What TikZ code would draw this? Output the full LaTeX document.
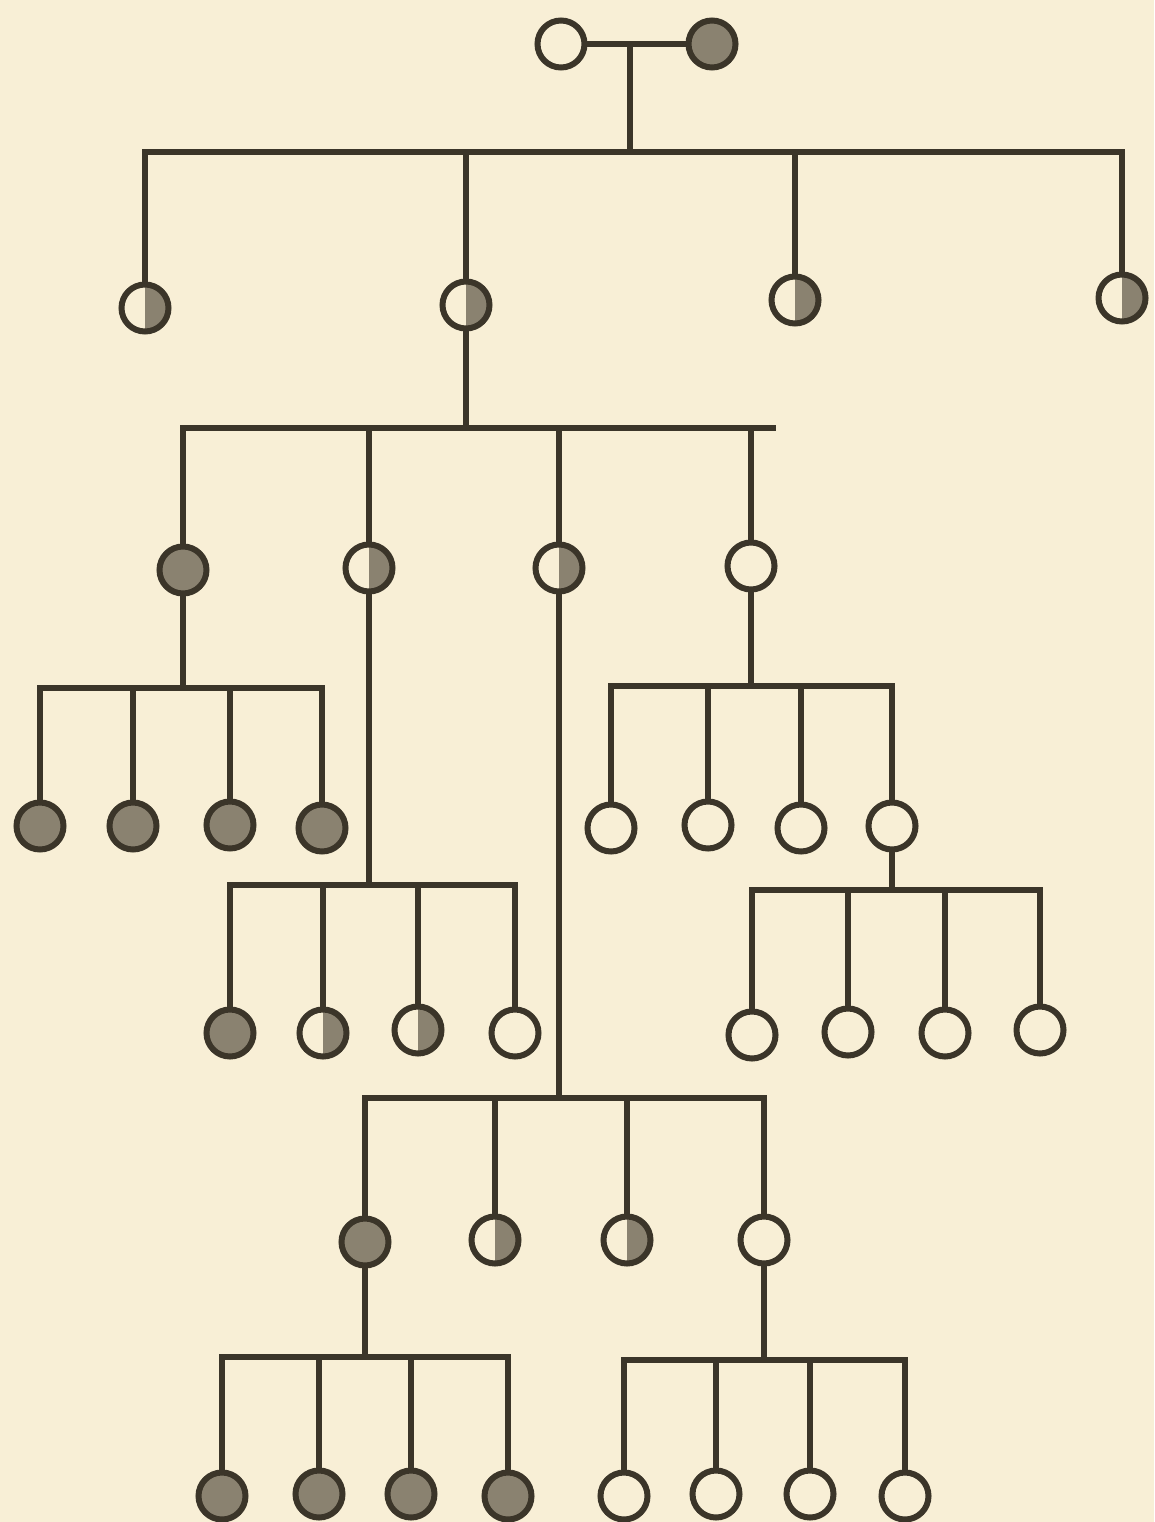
\documentclass[tikz,border=0pt]{standalone}
\usetikzlibrary{calc}
\definecolor{paper}{HTML}{F8EFD6}
\definecolor{ink}{HTML}{3B3529}
\definecolor{greyfill}{HTML}{8A8270}
\tikzset{
  pbase/.style={circle,draw=ink,line width=6pt,minimum size=47pt,inner sep=0pt},
  pw/.style={pbase},
  pf/.style={pbase,fill=greyfill},
  ph/.style={pbase,path picture={\fill[greyfill] (path picture bounding box.north) rectangle (path picture bounding box.south east);}},
  ln/.style={draw=ink,line width=5.5pt,line cap=rect},
}
\begin{document}
\begin{tikzpicture}[x=1pt,y=-1pt]
\fill[paper] (0,0) rectangle (1154,1522);
\useasboundingbox (0,0) rectangle (1154,1522);
% parents
\node[pw] (p1) at (561,44) {};
\node[pf] (p2) at (712,44) {};
\coordinate (m0) at (630,44);
\coordinate (b0L) at (145,152);
\coordinate (b0R) at (1122,152);
\draw[ln] (p1) -- (p2);
\draw[ln] (m0) -- (m0 |- b0L);
\draw[ln] (b0L) -- (b0R);
% generation 1
\node[ph] (a1) at (145,308) {};
\node[ph] (a2) at (466,305) {};
\node[ph] (a3) at (795,300) {};
\node[ph] (a4) at (1122,298) {};
\foreach \n in {a1,a2,a3,a4} \draw[ln] (\n) -- (\n |- b0L);
% family of a2
\coordinate (b1L) at (183,428);
\coordinate (b1R) at (773,428);
\draw[ln] (a2) -- (a2 |- b1L);
\draw[ln] (b1L) -- (b1R);
\node[pf] (c1) at (183,570) {};
\node[ph] (c2) at (369,568) {};
\node[ph] (c3) at (559,568) {};
\node[pw] (c4) at (751,566) {};
\foreach \n in {c1,c2,c3,c4} \draw[ln] (\n) -- (\n |- b1L);
% family of c1
\coordinate (b2L) at (40,688);
\coordinate (b2R) at (322,688);
\draw[ln] (c1) -- (c1 |- b2L);
\draw[ln] (b2L) -- (b2R);
\node[pf] (d1) at (40,826) {};
\node[pf] (d2) at (133,826) {};
\node[pf] (d3) at (230,825) {};
\node[pf] (d4) at (322,828) {};
\foreach \n in {d1,d2,d3,d4} \draw[ln] (\n) -- (\n |- b2L);
% family of c4
\coordinate (b3L) at (611,686);
\coordinate (b3R) at (892,686);
\draw[ln] (c4) -- (c4 |- b3L);
\draw[ln] (b3L) -- (b3R);
\node[pw] (e1) at (611,828) {};
\node[pw] (e2) at (708,825) {};
\node[pw] (e3) at (801,828) {};
\node[pw] (e4) at (892,826) {};
\foreach \n in {e1,e2,e3,e4} \draw[ln] (\n) -- (\n |- b3L);
% family of e4
\coordinate (b4L) at (752,890);
\coordinate (b4R) at (1040,890);
\draw[ln] (e4) -- (e4 |- b4L);
\draw[ln] (b4L) -- (b4R);
\node[pw] (f1) at (752,1035) {};
\node[pw] (f2) at (848,1032) {};
\node[pw] (f3) at (945,1033) {};
\node[pw] (f4) at (1040,1030) {};
\foreach \n in {f1,f2,f3,f4} \draw[ln] (\n) -- (\n |- b4L);
% family of c2
\coordinate (b5L) at (230,885);
\coordinate (b5R) at (515,885);
\draw[ln] (c2) -- (c2 |- b5L);
\draw[ln] (b5L) -- (b5R);
\node[pf] (g1) at (230,1033) {};
\node[ph] (g2) at (323,1033) {};
\node[ph] (g3) at (418,1030) {};
\node[pw] (g4) at (515,1033) {};
\foreach \n in {g1,g2,g3,g4} \draw[ln] (\n) -- (\n |- b5L);
% family of c3
\coordinate (b6L) at (365,1098);
\coordinate (b6R) at (764,1098);
\draw[ln] (c3) -- (c3 |- b6L);
\draw[ln] (b6L) -- (b6R);
\node[pf] (h1) at (365,1242) {};
\node[ph] (h2) at (495,1240) {};
\node[ph] (h3) at (627,1240) {};
\node[pw] (h4) at (764,1240) {};
\foreach \n in {h1,h2,h3,h4} \draw[ln] (\n) -- (\n |- b6L);
% family of h1
\coordinate (b7L) at (222,1357);
\coordinate (b7R) at (508,1357);
\draw[ln] (h1) -- (h1 |- b7L);
\draw[ln] (b7L) -- (b7R);
\node[pf] (i1) at (222,1496) {};
\node[pf] (i2) at (319,1494) {};
\node[pf] (i3) at (411,1494) {};
\node[pf] (i4) at (508,1496) {};
\foreach \n in {i1,i2,i3,i4} \draw[ln] (\n) -- (\n |- b7L);
% family of h4
\coordinate (b8L) at (624,1360);
\coordinate (b8R) at (905,1360);
\draw[ln] (h4) -- (h4 |- b8L);
\draw[ln] (b8L) -- (b8R);
\node[pw] (j1) at (624,1496) {};
\node[pw] (j2) at (716,1494) {};
\node[pw] (j3) at (810,1494) {};
\node[pw] (j4) at (905,1496) {};
\foreach \n in {j1,j2,j3,j4} \draw[ln] (\n) -- (\n |- b8L);
\end{tikzpicture}
\end{document}
